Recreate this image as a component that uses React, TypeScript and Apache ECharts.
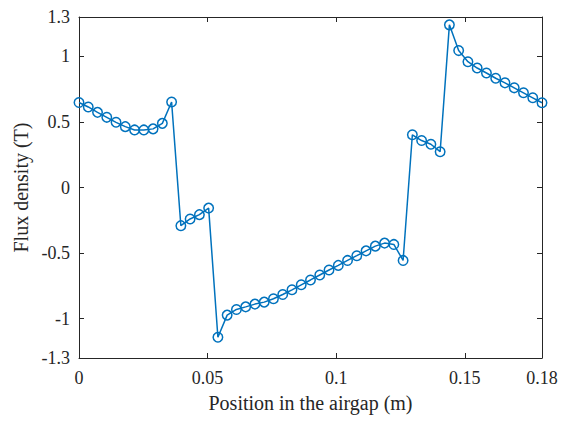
import React, { useEffect, useRef } from "react";
import * as echarts from "echarts";

const positions = [
  0, 0.0036, 0.0072, 0.0108, 0.0144, 0.018, 0.0216, 0.0252, 0.0288, 0.0324, 0.036,
  0.0396, 0.0432, 0.0468, 0.0504, 0.054, 0.0576, 0.0612, 0.0648, 0.0684, 0.072,
  0.0756, 0.0792, 0.0828, 0.0864, 0.09, 0.0936, 0.0972, 0.1008, 0.1044, 0.108,
  0.1116, 0.1152, 0.1188, 0.1224, 0.126, 0.1296, 0.1332, 0.1368, 0.1404, 0.144,
  0.1476, 0.1512, 0.1548, 0.1584, 0.162, 0.1656, 0.1692, 0.1728, 0.1764, 0.18,
];
const fluxDensity = [
  0.648, 0.614, 0.573, 0.535, 0.497, 0.464, 0.439, 0.439, 0.447, 0.489, 0.652,
  -0.291, -0.24, -0.207, -0.157,
  -1.142, -0.973, -0.93, -0.91, -0.889, -0.874, -0.848, -0.816, -0.78, -0.742, -0.705,
  -0.667, -0.629, -0.594, -0.556, -0.52, -0.483, -0.447, -0.424, -0.434, -0.556,
  0.402, 0.358, 0.33, 0.273,
  1.24, 1.044, 0.959, 0.911, 0.873, 0.833, 0.798, 0.76, 0.722, 0.684, 0.646,
];
const xTicks = [0, 0.05, 0.1, 0.15, 0.18];
const yTicks = [-1.3, -1, -0.5, 0, 0.5, 1, 1.3];

const FONT = "Liberation Serif";
const AX = "#262626";

export default function App() {
  const ref = useRef<HTMLDivElement>(null);
  useEffect(() => {
    if (!ref.current) return;
    const chart = echarts.init(ref.current, undefined, { renderer: "svg" });
    const data = positions.map((x, i) => [x, fluxDensity[i]]);
    const lineStyle = { color: AX, width: 1 };
    chart.setOption({
      animation: false,
      backgroundColor: "#ffffff",
      grid: { left: 79, right: 24, top: 17, bottom: 65, containLabel: false },
      xAxis: [
        {
          type: "value",
          min: 0,
          max: 0.18,
          position: "bottom",
          splitLine: { show: false },
          axisLine: { show: true, onZero: false, lineStyle },
          axisTick: { show: true, inside: true, length: 5, lineStyle, customValues: xTicks },
          axisLabel: {
            customValues: xTicks,
            color: AX,
            fontFamily: FONT,
            fontSize: 18,
            margin: 11,
            formatter: (v: number) => String(+v.toFixed(4)),
          },
          name: "Position in the airgap (m)",
          nameLocation: "middle",
          nameGap: 35,
          nameTextStyle: { color: AX, fontFamily: FONT, fontSize: 20 },
        },
        {
          type: "value",
          min: 0,
          max: 0.18,
          position: "top",
          splitLine: { show: false },
          axisLine: { show: true, onZero: false, lineStyle },
          axisTick: { show: true, inside: true, length: 5, lineStyle, customValues: xTicks },
          axisLabel: { show: false },
        },
      ],
      yAxis: [
        {
          type: "value",
          min: -1.3,
          max: 1.3,
          position: "left",
          splitLine: { show: false },
          axisLine: { show: true, onZero: false, lineStyle },
          axisTick: { show: true, inside: true, length: 5, lineStyle, customValues: yTicks },
          axisLabel: {
            customValues: yTicks,
            color: AX,
            fontFamily: FONT,
            fontSize: 18,
            margin: 9,
            formatter: (v: number) => String(+v.toFixed(2)),
          },
          name: "Flux density (T)",
          nameLocation: "middle",
          nameGap: 48,
          nameTextStyle: { color: AX, fontFamily: FONT, fontSize: 20 },
        },
        {
          type: "value",
          min: -1.3,
          max: 1.3,
          position: "right",
          splitLine: { show: false },
          axisLine: { show: true, onZero: false, lineStyle },
          axisTick: { show: true, inside: true, length: 5, lineStyle, customValues: yTicks },
          axisLabel: { show: false },
        },
      ],
      series: [
        {
          type: "line",
          data,
          xAxisIndex: 0,
          yAxisIndex: 0,
          clip: false,
          symbol: "circle",
          symbolSize: 9.5,
          showAllSymbol: true,
          lineStyle: { color: "#0072BD", width: 1.5 },
          itemStyle: { color: "rgba(255,255,255,0)", borderColor: "#0072BD", borderWidth: 1.5 },
        },
      ],
    });
    return () => chart.dispose();
  }, []);
  return <div ref={ref} style={{ width: 566, height: 423, margin: -8 }} />;
}
